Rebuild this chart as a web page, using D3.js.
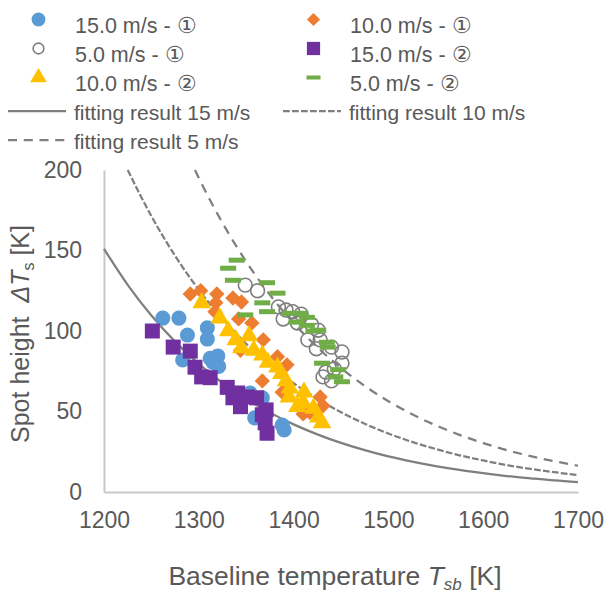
<!DOCTYPE html>
<html>
<head>
<meta charset="utf-8">
<script src="https://cdn.jsdelivr.net/npm/d3@7"></script>
<style>
  body { margin: 0; background: #fff; }
  text { font-family: "Liberation Sans", Arial, sans-serif; fill: #595959; }
</style>
</head>
<body>
<svg id="chart" width="606" height="594"></svg>
<script>
// baseline temperature Tsb [K] and spot height dTs [K]
var t15a = [1262, 1279, 1288, 1309, 1309, 1283, 1312, 1320, 1321, 1315, 1354, 1367, 1359, 1388, 1390];
var h15a = [108, 108, 97.5, 102, 95, 82, 83, 84.5, 78, 80.5, 61.5, 58.5, 46, 41.5, 38.5];

var t10a = [1291, 1302, 1319, 1318, 1336, 1345, 1317, 1342, 1356, 1368, 1383, 1393, 1367, 1393, 1410, 1428, 1431, 1417, 1344, 1388];
var h10a = [123, 125, 123, 117.5, 120.5, 118, 112, 107.5, 105, 94.5, 84, 79, 69, 64.5, 48.5, 59, 53.5, 49.5, 88, 62];

var t5a = [1349, 1362, 1384, 1392, 1399, 1408, 1389, 1404, 1419, 1426, 1415, 1424, 1440, 1451, 1451, 1443, 1431, 1440, 1434, 1428];
var h5a = [128.5, 125, 115, 113, 112, 110.5, 107.5, 105, 104, 100.5, 94.5, 89, 90, 87, 80, 76.5, 71.5, 69, 74.5, 94.5];

var t15b = [1251, 1273, 1291, 1296, 1303, 1312, 1330, 1336, 1344, 1341, 1351, 1361, 1371, 1370, 1372, 1367];
var h15b = [100, 90, 87.5, 77.5, 71.5, 71, 65, 58.5, 53, 61.5, 59, 58.5, 51, 43, 36.5, 48];

var t10b = [1303, 1322, 1331, 1339, 1353, 1345, 1358, 1367, 1373, 1383, 1387, 1392, 1396, 1395, 1411, 1410, 1404, 1421, 1426, 1430];
var h10b = [117.5, 108, 100, 94.5, 97, 89.5, 88, 85, 80.5, 77.5, 73.5, 69, 64.5, 59, 62, 55.5, 53, 52, 46.5, 43];

var t5b = [1340, 1331, 1336, 1372, 1383, 1367, 1372, 1349, 1396, 1407, 1414, 1403, 1414, 1421, 1426, 1435, 1436, 1430, 1447, 1444, 1451];
var h5b = [144, 139, 131.5, 130, 123.5, 117.5, 112, 110, 111, 111, 108.5, 105.5, 103.5, 100, 100.5, 93, 90, 80, 76, 71.5, 68.5];

// fitting curves
var fit15T = [1200, 1225, 1250, 1275, 1300, 1325, 1350, 1375, 1400, 1425, 1450, 1475, 1500, 1525, 1550, 1575, 1600, 1625, 1650, 1675, 1700];
var fit15V = [151, 128.7, 109.6, 93.4, 79.6, 67.8, 57.8, 49.3, 42.0, 35.8, 30.5, 26.0, 22.1, 18.9, 16.1, 13.7, 11.7, 9.9, 8.5, 7.2, 6.2];
var fit10T = [1225, 1250, 1275, 1300, 1325, 1350, 1375, 1400, 1425, 1450, 1475, 1500, 1525, 1550, 1575, 1600, 1625, 1650, 1675, 1700];
var fit10V = [200, 171.3, 146.7, 125.6, 107.6, 92.1, 78.9, 67.6, 57.9, 49.6, 42.4, 36.3, 31.1, 26.7, 22.8, 19.6, 16.7, 14.3, 12.3, 10.5];
var fit5T = [1296, 1300, 1325, 1350, 1375, 1400, 1425, 1450, 1475, 1500, 1525, 1550, 1575, 1600, 1625, 1650, 1675, 1700];
var fit5V = [200, 195.1, 167.1, 143.1, 122.5, 104.9, 89.9, 77.0, 65.9, 56.4, 48.3, 41.4, 35.5, 30.4, 26.0, 22.3, 19.1, 16.3];

var xTicks = [1200, 1300, 1400, 1500, 1600, 1700];
var yTicks = [0, 50, 100, 150, 200];

var svg = d3.select("#chart");

var x = d3.scaleLinear().domain([1200, 1700]).range([104, 578]);
var y = d3.scaleLinear().domain([0, 200]).range([492, 170]);

var grey = "#7f7f7f";

//axes
svg.append("g")
    .attr("transform", "translate(0,492)")
    .call(d3.axisBottom(x).tickValues(xTicks).tickSize(0).tickPadding(20).tickFormat(d3.format("d")))
    .call(function (g) {
        g.select(".domain").attr("stroke", "#c8c8c8").attr("stroke-width", 2);
        g.selectAll("text").style("font-size", "23px").attr("fill", "#595959");
    });

svg.append("g")
    .attr("transform", "translate(104,0)")
    .call(d3.axisLeft(y).tickValues(yTicks).tickSize(0).tickPadding(22))
    .call(function (g) {
        g.select(".domain").attr("stroke", "#c8c8c8").attr("stroke-width", 2);
        g.selectAll("text").style("font-size", "23px").attr("fill", "#595959");
    });

//fitting lines
var line = d3.line()
    .x(function (d) { return x(d[0]); })
    .y(function (d) { return y(d[1]); })
    .curve(d3.curveMonotoneX);

function drawFit(ts, vs, dash) {
    svg.append("path")
        .datum(d3.zip(ts, vs))
        .attr("d", line)
        .attr("fill", "none")
        .attr("stroke", grey)
        .attr("stroke-width", 2.25)
        .attr("stroke-dasharray", dash);
}
drawFit(fit15T, fit15V, null);
drawFit(fit10T, fit10V, "6.75,2.25");
drawFit(fit5T, fit5V, "9,6.75");

//markers
function sym(type, size) {
    return d3.symbol().type(type).size(size)();
}

function drawPoints(ts, vs, style) {
    var pts = svg.append("g").selectAll("path")
        .data(d3.zip(ts, vs))
        .enter();
    if (style.rect) {
        pts.append("rect")
            .attr("x", function (d) { return x(d[0]) - style.rect[0] / 2; })
            .attr("y", function (d) { return y(d[1]) - style.rect[1] / 2; })
            .attr("width", style.rect[0])
            .attr("height", style.rect[1])
            .attr("fill", style.fill);
    } else {
        pts.append("path")
            .attr("d", sym(style.type, style.size))
            .attr("transform", function (d) { return "translate(" + x(d[0]) + "," + y(d[1]) + ")"; })
            .attr("fill", style.fill)
            .attr("stroke", style.stroke || "none")
            .attr("stroke-width", style.sw || 0);
    }
}

var s15a = { type: d3.symbolCircle, size: 180, fill: "#5b9bd5" };
var s10a = { type: d3.symbolDiamond2, size: 150, fill: "#ed7d31" };
var s5a = { type: d3.symbolCircle, size: 150, fill: "none", stroke: grey, sw: 1.6 };
var s15b = { type: d3.symbolSquare, size: 225, fill: "#7030a0" };
var s10b = { type: d3.symbolTriangle, size: 150, fill: "#ffc000" };
var s5b = { rect: [16, 5], fill: "#70ad47" };

drawPoints(t15a, h15a, s15a);
drawPoints(t10a, h10a, s10a);
drawPoints(t5a, h5a, s5a);
drawPoints(t15b, h15b, s15b);
drawPoints(t10b, h10b, s10b);
drawPoints(t5b, h5b, s5b);

//legend
var leg = svg.append("g");
var legRows = [
    { col: 0, row: 0, label: "15.0 m/s - \u2460", mk: { type: d3.symbolCircle, size: 150, fill: "#5b9bd5" } },
    { col: 1, row: 0, label: "10.0 m/s - \u2460", mk: { type: d3.symbolDiamond2, size: 110, fill: "#ed7d31" } },
    { col: 0, row: 1, label: "5.0 m/s - \u2460", mk: { type: d3.symbolCircle, size: 90, fill: "none", stroke: grey, sw: 1.6 } },
    { col: 1, row: 1, label: "15.0 m/s - \u2461", mk: { type: d3.symbolSquare, size: 175, fill: "#7030a0" } },
    { col: 0, row: 2, label: "10.0 m/s - \u2461", mk: { type: d3.symbolTriangle, size: 120, fill: "#ffc000" } },
    { col: 1, row: 2, label: "5.0 m/s - \u2461", mk: { rect: [14, 4], fill: "#70ad47" } },
    { col: 0, row: 3, label: "fitting result 15 m/s", dash: null },
    { col: 1, row: 3, label: "fitting result 10 m/s", dash: "6.75,2.25" },
    { col: 0, row: 4, label: "fitting result 5 m/s", dash: "9,6.75" }
];
var colX = [0, 275];
var rowY = [33, 62, 91, 120, 149];

legRows.forEach(function (e) {
    var bx = colX[e.col], by = rowY[e.row];
    if (e.mk) {
        var cx = bx + 38.5, cy = by - 13.5;
        if (e.mk.rect) {
            leg.append("rect").attr("x", cx - e.mk.rect[0] / 2).attr("y", cy - e.mk.rect[1] / 2)
                .attr("width", e.mk.rect[0]).attr("height", e.mk.rect[1]).attr("fill", e.mk.fill);
        } else {
            leg.append("path").attr("d", sym(e.mk.type, e.mk.size))
                .attr("transform", "translate(" + cx + "," + cy + ")")
                .attr("fill", e.mk.fill).attr("stroke", e.mk.stroke || "none").attr("stroke-width", e.mk.sw || 0);
        }
        leg.append("text").attr("x", bx + 75).attr("y", by).style("font-size", "21.5px").text(e.label);
    } else {
        leg.append("line").attr("x1", bx + 8).attr("x2", bx + 66)
            .attr("y1", by - 9).attr("y2", by - 9)
            .attr("stroke", grey).attr("stroke-width", 2.25).attr("stroke-dasharray", e.dash);
        leg.append("text").attr("x", bx + 74).attr("y", by).style("font-size", "21px").text(e.label);
    }
});

//axis titles
var xt = svg.append("text").attr("x", 335).attr("y", 585).attr("text-anchor", "middle")
    .style("font-size", "26.5px").style("white-space", "pre");
xt.append("tspan").text("Baseline temperature ");
xt.append("tspan").style("font-style", "italic").text("T");
xt.append("tspan").style("font-size", "17px").style("font-style", "italic").attr("dy", 5).text("sb");
xt.append("tspan").attr("dy", -5).text(" [K]");

var yt = svg.append("text").attr("transform", "translate(29,334) rotate(-90)").attr("text-anchor", "middle")
    .style("font-size", "25px").style("white-space", "pre");
yt.append("tspan").text("Spot height  ");
yt.append("tspan").style("font-style", "italic").text("\u0394T");
yt.append("tspan").style("font-size", "16px").attr("dy", 5).text("s");
yt.append("tspan").attr("dy", -5).text(" [K]");
</script>
</body>
</html>
